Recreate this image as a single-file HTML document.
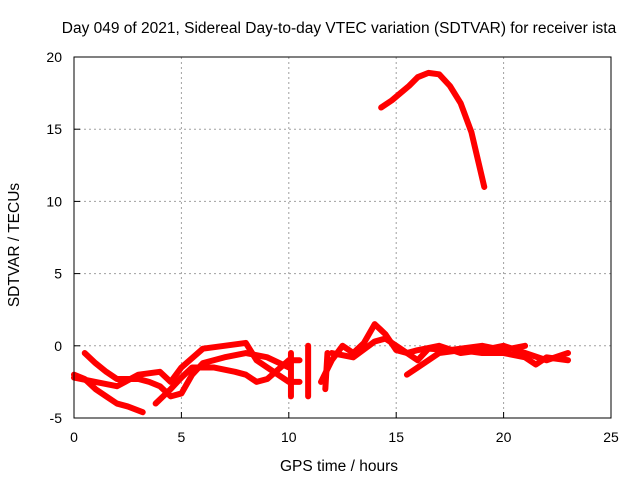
<!DOCTYPE html>
<html><head><meta charset="utf-8"><style>body{margin:0;background:#fff}svg{display:block;font-family:"Liberation Sans",sans-serif}</style></head>
<body>
<svg id="c" width="640" height="480">
<rect width="640" height="480" fill="#fff"/>
<text x="339" y="33" font-size="15.5" text-anchor="middle">Day 049 of 2021, Sidereal Day-to-day VTEC variation (SDTVAR) for receiver ista</text>
<text x="339" y="471" font-size="15.5" text-anchor="middle">GPS time / hours</text>
<text transform="translate(19,245) rotate(-90)" font-size="15.5" text-anchor="middle">SDTVAR / TECUs</text>
<g id="grid"></g><g id="ticks"></g><g id="marks"></g>
<rect x="74" y="57" width="537" height="361" fill="none" stroke="#000" stroke-width="1"/>
</svg>
<script>
const xTicks=[0,5,10,15,20,25];
const yTicks=[-5,0,5,10,15,20];
const sArc=[[14.3,16.5],[14.8,17],[15.2,17.5],[15.6,18],[16,18.6],[16.5,18.9],[17,18.8],[17.5,18],[18,16.8],[18.5,14.8],[19.1,11]];
const sB=[[0,-2],[0.5,-2.3],[1,-3],[1.5,-3.5],[2,-4],[2.5,-4.2],[3.2,-4.6]];
const sC=[[0.5,-0.5],[1,-1.2],[1.5,-1.8],[2,-2.3],[2.5,-2.3],[3,-2.3],[3.5,-2.5],[4,-2.8],[4.5,-3.5],[5,-3.3],[5.5,-2],[6,-1.2],[7,-0.8],[8,-0.5],[9,-0.8],[10,-1.5]];
const sD=[[0,-2.2],[1,-2.5],[2,-2.8],[3,-2],[4,-1.8],[4.5,-2.5],[5,-1.5],[6,-0.2],[7,0],[8,0.2],[8.5,-1],[9,-1.5],[10,-2.5],[10.5,-2.5]];
const sE=[[3.8,-4],[4.5,-3],[5,-2.2],[5.5,-1.5],[6,-1.5],[6.5,-1.5],[7.5,-1.8],[8,-2],[8.5,-2.5],[9,-2.3],[10,-1],[10.5,-1]];
const sF=[[11.5,-2.5],[12,-1],[12.5,0],[13,-0.5],[13.5,0.2],[14,1.5],[14.5,0.8],[15,-0.3],[15.5,-0.5],[16,-0.3],[17,0],[18,-0.5],[19,-0.3],[20,0],[21,-0.5],[22,-1],[23,-0.5]];
const sG=[[12,-0.5],[13,-0.8],[14,0.3],[14.5,0.5],[15,0],[16,-1],[16.5,-0.2],[17.5,-0.3],[19,0],[20,-0.3],[21,0]];
const sH=[[15.5,-2],[16,-1.5],[16.5,-1],[17,-0.5],[18,-0.3],[19,-0.5],[20,-0.5],[21,-0.8],[21.5,-1.3],[22,-0.8],[23,-1]];
const sV1=[[10.1,-3.5],[10.1,-0.5]];
const sV2=[[10.9,-3.5],[10.9,0]];
const sV3=[[11.7,-3],[11.8,-0.5]];
const series=[sArc,sB,sC,sD,sE,sF,sG,sH,sV1,sV2,sV3];
const X=v=>74+v*537/25, Y=v=>418-(v+5)*361/25;
const NS="http://www.w3.org/2000/svg";
const g=document.getElementById('grid'),t=document.getElementById('ticks'),m=document.getElementById('marks');
function mk(tag,a,p){const e=document.createElementNS(NS,tag);for(const k in a)e.setAttribute(k,a[k]);p.appendChild(e);return e;}
xTicks.forEach(v=>{
 if(v>0&&v<25){const l=mk('line',{x1:X(v),x2:X(v),y1:57,y2:418,stroke:'#a0a0a0','stroke-dasharray':'2,3'},g);
 
 }
 mk('line',{x1:X(v),x2:X(v),y1:418,y2:412,stroke:'#000'},t);
 const tx=mk('text',{x:X(v),y:442,'font-size':14,'text-anchor':'middle'},t);tx.textContent=v;
 
 
});
yTicks.forEach(v=>{
 if(v>-5&&v<20){const l=mk('line',{x1:74,x2:611,y1:Y(v),y2:Y(v),stroke:'#a0a0a0','stroke-dasharray':'2,3'},g);
 
 }
 mk('line',{x1:74,x2:80,y1:Y(v),y2:Y(v),stroke:'#000'},t);
 const tx=mk('text',{x:62,y:Y(v)+5,'font-size':14,'text-anchor':'end'},t);tx.textContent=v;
 
 
});
series.forEach(s=>{
 const p=mk('polyline',{points:s.map(d=>X(d[0])+','+Y(d[1])).join(' '),fill:'none',stroke:'#f00','stroke-width':6,'stroke-linejoin':'round','stroke-linecap':'round'},m);
 
 
});
</script>
</body></html>
